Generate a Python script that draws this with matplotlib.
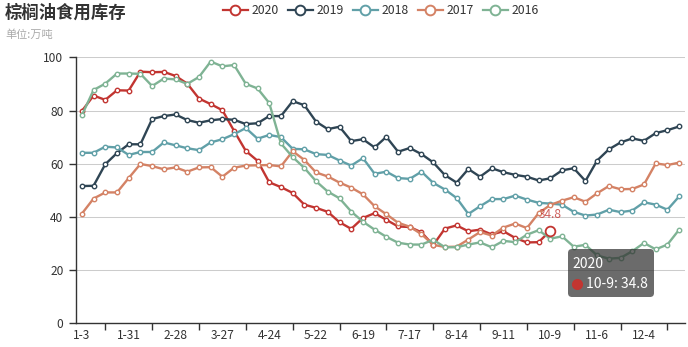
import matplotlib
matplotlib.use('Agg')
import matplotlib.pyplot as plt
from matplotlib.patches import FancyBboxPatch
import numpy as np

plt.rcParams['font.family'] = ['Noto Sans CJK SC', 'DejaVu Sans']

categories = ['1-3', '1-10', '1-17', '1-24', '1-31', '2-7', '2-14', '2-21', '2-28',
              '3-6', '3-13', '3-20', '3-27', '4-3', '4-10', '4-17', '4-24', '5-1',
              '5-8', '5-15', '5-22', '5-29', '6-5', '6-12', '6-19', '6-26', '7-3',
              '7-10', '7-17', '7-24', '7-31', '8-7', '8-14', '8-21', '8-28', '9-4',
              '9-11', '9-18', '9-25', '10-2', '10-9', '10-16', '10-23', '10-30',
              '11-6', '11-13', '11-20', '11-27', '12-4', '12-11', '12-18', '12-25']

years = ['2020', '2019', '2018', '2017', '2016']
colors = ['#c23531', '#2f4554', '#61a0a8', '#d48265', '#7fb394']

s2020 = [79.8, 85.6, 84.0, 87.6, 87.5, 94.6, 94.4, 94.5, 93.0, 90.1, 84.5, 82.4, 80.1,
         72.3, 64.8, 61.1, 53.0, 51.2, 49.0, 44.6, 43.4, 41.9, 38.0, 35.5, 39.6, 41.4,
         38.9, 36.4, 36.2, 34.2, 29.4, 35.6, 36.8, 34.6, 35.2, 33.4, 34.6, 32.1, 30.4,
         30.5, 34.8]
s2019 = [51.6, 51.7, 59.8, 64.0, 67.3, 67.3, 76.8, 77.9, 78.5, 76.4, 75.4, 76.3, 76.8,
         76.5, 74.9, 75.2, 77.9, 77.9, 83.5, 82.0, 75.8, 73.0, 73.9, 68.5, 69.2, 66.1,
         70.1, 64.5, 65.9, 63.6, 60.5, 55.7, 52.9, 58.0, 55.1, 58.3, 56.8, 55.8, 55.1,
         53.7, 54.5, 57.5, 58.3, 53.5, 61.2, 65.4, 68.0, 69.5, 68.6, 71.5, 72.6, 74.0]
s2018 = [64.1, 64.1, 66.4, 66.1, 63.3, 64.4, 64.4, 68.0, 66.9, 65.8, 65.1, 68.0, 69.2,
         71.1, 73.4, 69.4, 70.8, 70.0, 65.6, 65.4, 63.6, 63.3, 61.2, 59.3, 62.1, 56.2,
         57.0, 54.6, 54.3, 57.0, 52.8, 50.3, 47.1, 41.1, 44.0, 46.7, 46.7, 48.0, 46.5,
         45.3, 45.0, 44.6, 41.9, 40.5, 40.9, 42.7, 41.8, 42.4, 45.5, 44.6, 42.7, 47.7]
s2017 = [41.2, 46.9, 49.2, 49.2, 54.6, 59.9, 59.1, 57.9, 58.6, 57.0, 58.6, 58.7, 55.1,
         58.5, 59.3, 59.4, 59.5, 59.0, 64.7, 61.4, 56.7, 55.2, 52.9, 51.0, 48.5, 44.0,
         41.0, 37.8, 36.3, 33.5, 29.5, 28.7, 28.8, 31.5, 34.3, 33.0, 36.0, 37.5, 35.8,
         41.4, 44.5, 46.1, 47.4, 45.7, 48.9, 51.6, 50.4, 50.5, 52.2, 60.1, 59.5, 60.4]
s2016 = [78.2, 87.7, 90.1, 93.9, 93.9, 93.8, 89.2, 92.0, 91.7, 90.0, 92.6, 98.4, 96.6,
         97.1, 90.0, 88.3, 82.8, 67.6, 62.5, 58.4, 53.4, 49.5, 47.0, 42.0, 38.2, 35.2,
         32.5, 30.3, 29.6, 29.6, 31.4, 28.6, 28.6, 29.6, 30.4, 28.6, 31.0, 30.5, 33.3,
         35.0, 31.8, 32.7, 28.8, 29.5, 25.5, 24.3, 24.6, 27.1, 30.2, 27.8, 29.6, 35.2]

series = [s2020, s2019, s2018, s2017, s2016]
yticks = [0, 20, 40, 60, 80, 100]
highlight_idx = 40

W, H = 688, 347
fig = plt.figure(figsize=(W / 100, H / 100), dpi=100)
ax = fig.add_axes([76 / W, (H - 323.3) / H, (685 - 76) / W, (323.3 - 57.3) / H])

x = np.arange(len(categories))
for k, (name, vals, c) in enumerate(zip(years, series, colors)):
    ax.plot(x[:len(vals)], vals, color=c, lw=1.7, marker='o', ms=3.2,
            mfc='white', mec=c, mew=1.0, zorder=3 + k * 0.1,
            solid_joinstyle='round')

# highlighted point
hv = s2020[highlight_idx]
ax.plot(highlight_idx, hv, 'o', ms=7, mfc='white', mec=colors[0], mew=1.3, zorder=10)
ax.annotate(f'{hv}', (highlight_idx, hv), xytext=(0, 7), textcoords='offset points',
            ha='center', va='bottom', color=colors[0], alpha=0.8, fontsize=8.6, zorder=10)

ax.set_xlim(-0.5, len(categories) - 0.5)
ax.set_ylim(0, 100)
ax.set_yticks(yticks)
ax.set_yticklabels([str(v) for v in yticks])
ax.grid(axis='y', color='#cccccc', lw=0.75)
ax.set_axisbelow(True)

lab_idx = list(range(0, len(categories), 4))
ax.set_xticks(lab_idx)
ax.set_xticklabels([categories[i] for i in lab_idx])
ax.set_xticks([i + 2 for i in lab_idx], minor=True)
ax.tick_params(axis='x', which='major', length=0, pad=4, labelsize=8.6, labelcolor='#333333')
ax.tick_params(axis='x', which='minor', length=5, width=1, color='#333333')
ax.tick_params(axis='y', length=5, width=1, color='#333333', pad=4, labelsize=8.6,
               labelcolor='#333333')

for s in ['top', 'right']:
    ax.spines[s].set_visible(False)
for s in ['left', 'bottom']:
    ax.spines[s].set_color('#333333')
    ax.spines[s].set_linewidth(1)

# overlay for title, legend, tooltip
ov = fig.add_axes([0, 0, 1, 1], zorder=5)
ov.set_xlim(0, W)
ov.set_ylim(H, 0)
ov.axis('off')
ov.patch.set_alpha(0)

ov.text(5, 13, '棕榈油食用库存', fontsize=12.5, weight='bold', color='#333333', va='center')
ov.text(5, 35, '单位:万吨', fontsize=8.0, color='#aaaaaa', va='center')

for k, (name, c) in enumerate(zip(years, colors)):
    x0 = 222.5 + 65 * k
    ov.plot([x0, x0 + 25], [10, 10], color=c, lw=1.6)
    ov.plot(x0 + 12.5, 10, 'o', ms=7, mfc='white', mec=c, mew=1.4)
    ov.text(x0 + 29, 10, name, va='center', ha='left', fontsize=8.8, color='#333333')

box = FancyBboxPatch((568, 249), 86, 48, boxstyle='round,pad=0,rounding_size=4',
                     fc=(50 / 255, 50 / 255, 50 / 255, 0.72), ec='none')
ov.add_patch(box)
ov.text(572.5, 264, years[0], color='white', fontsize=10, va='center', ha='left')
ov.plot(577, 284, 'o', ms=7, color=colors[0])
ov.text(585.5, 284, f'{categories[highlight_idx]}: {hv}', color='white', fontsize=10,
        va='center', ha='left')

fig.savefig('out.png', dpi=100)
